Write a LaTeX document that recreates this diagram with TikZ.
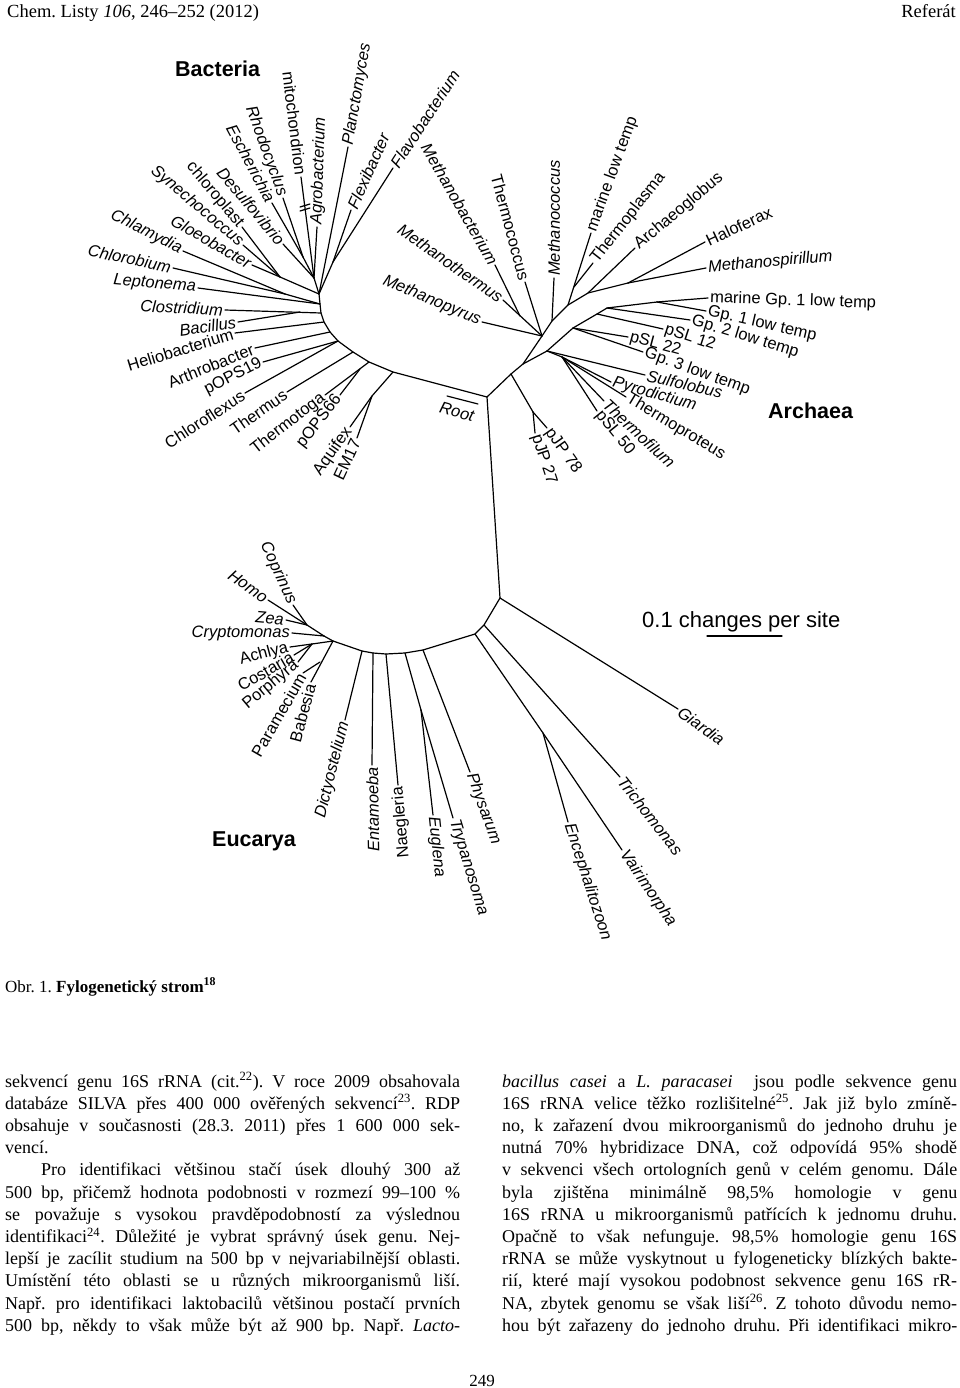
\documentclass[tikz,border=0pt]{standalone}
\usepackage{fontspec}
\setmainfont{Liberation Serif}
\setsansfont{Liberation Sans}
\usetikzlibrary{positioning}

\tikzset{
  branch/.style={line width=1.2pt, line cap=round, line join=round},
  taxon/.style={font=\fontsize{16.5}{17}\selectfont\sffamily, inner sep=2pt},
  taxit/.style={taxon, font=\fontsize{16.5}{17}\selectfont\sffamily\itshape},
  domainlbl/.style={font=\fontsize{21.5}{24}\selectfont\sffamily\bfseries, anchor=base west, inner sep=0pt},
  pagehead/.style={font=\fontsize{18.5}{20}\selectfont, inner sep=0pt},
  bodytext/.style={anchor=base west, inner sep=0pt, font=\fontsize{18}{22.2}\selectfont},
}

% leaf: style, name, attach node, tip, label rotation, label anchor, text
\newcommand\leaf[7][taxon]{%
  \coordinate (#2) at (#4);
  \draw[branch] (#3) -- (#2);
  \node[#1, rotate=#5, anchor=#6] (#2-lbl) at (#2) {#7};
}

\begin{document}
\frenchspacing
\begin{tikzpicture}[x=1pt, y=-1pt]
\useasboundingbox (0,0) rectangle (960,1388);

% ============================
% PAGE HEAD
% ============================
\node[pagehead, anchor=base west] (head) at (7,18) {Chem. Listy \textit{106}, 246--252 (2012)};
\node[pagehead, anchor=base east] (kind) at (956,18) {Referát};

% ============================
% ROOT
% ============================
\coordinate (root) at (487,397);
\coordinate (euroot) at (500,598);
\draw[branch] (root) -- (euroot);

\coordinate (rm1) at (447,396);
\coordinate (rm2) at (478,404);
\draw[branch] (rm1) -- (rm2);
\node[taxit, rotate=-15] (rootlbl) at (457,412) {Root};

% ============================
% BACTERIA
% ============================
\node[domainlbl] (bacteria) at (175,77) {Bacteria};

% backbone
\coordinate (b1) at (393,372);
\coordinate (b2) at (369,362);
\coordinate (b3) at (353,352);
\coordinate (b4) at (338,341);
\coordinate (b5) at (330,332);
\coordinate (b6) at (324,322);
\coordinate (b7) at (321,313);
\coordinate (b8) at (320,304);
\coordinate (b9) at (319,294);
\coordinate (b10) at (314,278);
\draw[branch] (root) -- (b1) -- (b2) -- (b3) -- (b4) -- (b5) -- (b6) -- (b7) -- (b8) -- (b9) -- (b10);

\coordinate (aqn) at (372,396);
\draw[branch] (b1) -- (aqn);
\leaf{aquifex}{aqn}{350,427}{55}{east}{Aquifex}
\leaf{em17}{aqn}{357,438}{65}{east}{EM17}

\leaf{thermotoga}{b2}{325,395}{38}{east}{Thermotoga}
\coordinate (tgn) at (360,369);
\leaf{pops66}{tgn}{340,395}{52}{east}{pOPS66}
\leaf{thermus}{b3}{287,392}{35}{east}{Thermus}
\leaf{chloroflexus}{b4}{245,393}{33}{east}{Chloroflexus}
\leaf{pops19}{b4}{263,362}{27}{east}{pOPS19}
\leaf{arthrobacter}{b5}{255,348}{22}{east}{Arthrobacter}
\leaf{heliobact}{b6}{235,333}{17}{east}{Heliobacterium}
\leaf[taxit]{clostridium}{b7}{225,310}{-3}{east}{Clostridium}
\coordinate (cbn) at (300,312);
\leaf[taxit]{bacillus}{cbn}{238,322}{8}{east}{Bacillus}
\leaf[taxit]{leptonema}{b8}{198,288}{-5}{east}{Leptonema}

\coordinate (ccn) at (285,294);
\draw[branch] (b8) -- (ccn);
\leaf[taxit]{chlorobium}{ccn}{173,268}{-12}{east}{Chlorobium}
\leaf[taxit]{chlamydia}{ccn}{183,251}{-27}{east}{Chlamydia}

\coordinate (gcn) at (280,277);
\draw[branch] (b9) -- (gcn);
\leaf[taxit]{gloeobacter}{gcn}{252,265}{-30}{east}{Gloeobacter}
\leaf[taxit]{synechococcus}{gcn}{243,245}{-40}{east}{Synechococcus}
\leaf{chloroplast}{gcn}{242,227}{-50}{east}{chloroplast}

\leaf[taxit]{desulfo}{b10}{283,244}{-50}{east}{Desulfovibrio}
\coordinate (rcn) at (303,257);
\draw[branch] (b10) -- (rcn);
\leaf[taxit]{escherichia}{rcn}{272,203}{-62}{east}{Escherichia}
\leaf[taxit]{rhodocyclus}{rcn}{283,198}{-70}{east}{Rhodocyclus}
\leaf{mitochondrion}{b10}{301,177}{-83}{east}{mitochondrion}
% break mark on the long branch
\draw[branch] (300,207) -- (310,204);
\draw[branch] (300,211) -- (310,208);
\leaf[taxit]{agrobact}{b10}{317,227}{88}{west}{Agrobacterium}
\leaf[taxit]{planctomyces}{b9}{348,147}{80}{west}{Planctomyces}
\coordinate (fcn) at (333,262);
\draw[branch] (b9) -- (fcn);
\leaf[taxit]{flavobact}{fcn}{393,168}{57}{west}{Flavobacterium}
\leaf[taxit]{flexibacter}{fcn}{351,210}{66}{west}{Flexibacter}

% ============================
% ARCHAEA
% ============================
\node[domainlbl] (archaea) at (768,418) {Archaea};

\coordinate (a1) at (511,374);
\coordinate (a2) at (523,364);
\coordinate (e0) at (542,336);
\coordinate (c0) at (547,351);
\draw[branch] (root) -- (a1) -- (a2) -- (e0);
\draw[branch] (a2) -- (c0);

\coordinate (pjn) at (533,412);
\draw[branch] (a1) -- (pjn);
\leaf{pjp78}{pjn}{547,428}{-55}{west}{pJP 78}
\leaf{pjp27}{pjn}{535,433}{-72}{west}{pJP 27}

% Euryarchaeota
\coordinate (e1) at (552,321);
\coordinate (e2) at (568,305);
\coordinate (e3) at (588,293);
\coordinate (e4) at (628,283);
\draw[branch] (e0) -- (e1) -- (e2) -- (e3) -- (e4);
\leaf[taxit]{methanopyrus}{e0}{482,322}{-23}{east}{Methanopyrus}
\leaf[taxit]{methanotherm}{e0}{503,300}{-35}{east}{Methanothermus}
\coordinate (mtn) at (520,316);
\leaf[taxit]{methanobact}{mtn}{495,265}{-60}{east}{Methanobacterium}
\leaf{thermococcus}{e0}{525,282}{-75}{east}{Thermococcus}
\leaf[taxit]{methanococcus}{e1}{554,278}{90}{west}{Methanococcus}
\leaf{marinelow}{e2}{591,233}{70}{west}{marine low temp}
\coordinate (mln) at (574,287);
\leaf{thermoplasma}{mln}{593,263}{52}{west}{Thermoplasma}
\leaf{archaeoglobus}{e3}{635,248}{40}{west}{Archaeoglobus}
\leaf{haloferax}{e4}{705,242}{25}{west}{Haloferax}
\leaf[taxit]{methanospir}{e4}{706,268}{5}{west}{Methanospirillum}

% Crenarchaeota
\leaf[taxit]{sulfolobus}{c0}{645,375}{-13}{west}{Sulfolobus}
\coordinate (c1) at (562,357);
\draw[branch] (c0) -- (c1);
\leaf[taxit]{pyrodictium}{c1}{611,382}{-16}{west}{Pyrodictium}
\leaf{thermoproteus}{c1}{626,397}{-31}{west}{Thermoproteus}
\leaf[taxit]{thermofilum}{c1}{604,401}{-43}{west}{Thermofilum}
\leaf{psl50}{c1}{597,411}{-51}{west}{pSL 50}

\coordinate (c2) at (573,328);
\coordinate (c2b) at (597,314);
\coordinate (c3) at (607,308);
\coordinate (c4) at (657,302);
\draw[branch] (c0) -- (c2) -- (c2b) -- (c3) -- (c4);
\leaf{psl22}{c2}{628,337}{-15}{west}{pSL 22}
\leaf{gp3}{c2}{643,352}{-20}{west}{Gp. 3 low temp}
\leaf{psl12}{c2b}{663,329}{-18}{west}{pSL 12}
\leaf{gp2}{c3}{690,320}{-17}{west}{Gp. 2 low temp}
\leaf{marinegp}{c4}{708,298}{-2}{west}{marine Gp. 1 low temp}
\leaf{gp1}{c4}{706,311}{-13}{west}{Gp. 1 low temp}

% ============================
% EUCARYA
% ============================
\node[domainlbl] (eucarya) at (212,846) {Eucarya};

\coordinate (u1) at (484,625);
\coordinate (u2) at (475,634);
\coordinate (u3) at (423,650);
\coordinate (u4) at (405,653);
\coordinate (u5) at (386,654);
\coordinate (u6) at (373,653);
\coordinate (u7) at (362,651);
\coordinate (u8) at (333,641);
\coordinate (u9) at (324,636);
\draw[branch] (euroot) -- (u1) -- (u2) -- (u3) -- (u4) -- (u5) -- (u6) -- (u7) -- (u8) -- (u9);

\leaf[taxit]{giardia}{euroot}{678,709}{-36}{west}{Giardia}
\leaf[taxit]{trichomonas}{u1}{620,777}{-52}{west}{Trichomonas}
\coordinate (mcn) at (543,733);
\draw[branch] (u2) -- (mcn);
\leaf[taxit]{vairimorpha}{mcn}{622,850}{-56}{west}{Vairimorpha}
\leaf[taxit]{encephalito}{mcn}{568,822}{-72}{west}{Encephalitozoon}
\leaf[taxit]{physarum}{u3}{470,772}{-70}{west}{Physarum}
\coordinate (etn) at (421,710);
\draw[branch] (u4) -- (etn);
\leaf[taxit]{trypanosoma}{etn}{453,818}{-73}{west}{Trypanosoma}
\leaf[taxit]{euglena}{etn}{433,815}{-84}{west}{Euglena}
\leaf{naegleria}{u5}{398,785}{95}{east}{Naegleria}
\leaf[taxit]{entamoeba}{u6}{372,765}{91}{east}{Entamoeba}
\leaf[taxit]{dictyostel}{u7}{345,720}{76}{east}{Dictyostelium}

\leaf{babesia}{u8}{311,682}{75}{east}{Babesia}
\coordinate (bpn) at (320,662);
\leaf{paramecium}{bpn}{303,673}{60}{east}{Paramecium}
\coordinate (acn) at (312,644);
\draw[branch] (u8) -- (acn);
\leaf{porphyra}{acn}{298,662}{40}{east}{Porphyra}
\leaf{costaria}{acn}{294,655}{30}{east}{Costaria}
\leaf{achlya}{acn}{290,647}{15}{east}{Achlya}
\leaf[taxit]{cryptomonas}{u9}{292,633}{0}{east}{Cryptomonas}
\coordinate (zhn) at (307,625);
\draw[branch] (u9) -- (zhn);
\leaf[taxit]{zea}{zhn}{286,620}{-5}{east}{Zea}
\leaf[taxit]{homo}{zhn}{268,600}{-35}{east}{Homo}
\leaf[taxit]{coprinus}{zhn}{293,605}{-65}{east}{Coprinus}

% scale bar
\node[font=\fontsize{22}{24}\selectfont\sffamily, anchor=base west, inner sep=0pt] (scalelbl) at (642,627) {0.1 changes per site};
\coordinate (sb1) at (707,636);
\coordinate (sb2) at (782,636);
\draw[branch] (sb1) -- (sb2);

% ============================
% CAPTION AND TEXT
% ============================
\node[anchor=base west, inner sep=0pt, font=\fontsize{17}{20}\selectfont] (caption) at (5,992)
  {Obr. 1. \textbf{Fylogenetický strom}\textsuperscript{\textbf{18}}};

\node[bodytext] (leftcol) at (5,1087) {\parbox[t]{455pt}{\hbadness=10000 \emergencystretch=20pt
sekvencí genu 16S rRNA (cit.\textsuperscript{22}). V roce 2009 obsahovala\linebreak
databáze SILVA přes 400~000 ověřených sekvencí\textsuperscript{23}. RDP\linebreak
obsahuje v současnosti (28.3. 2011) přes 1~600~000 sek-\linebreak
vencí.\par
\hspace*{36pt}Pro identifikaci většinou stačí úsek dlouhý 300 až\linebreak
500 bp, přičemž hodnota podobnosti v rozmezí 99--100~\%\linebreak
se považuje s~vysokou pravděpodobností za výslednou\linebreak
identifikaci\textsuperscript{24}. Důležité je vybrat správný úsek genu. Nej-\linebreak
lepší je zacílit studium na 500 bp v nejvariabilnější oblasti.\linebreak
Umístění této oblasti se u různých mikroorganismů liší.\linebreak
Např. pro identifikaci laktobacilů většinou postačí prvních\linebreak
500 bp, někdy to však může být až 900 bp. Např. \textit{Lacto-}\linebreak}};

\node[bodytext] (rightcol) at (502,1087) {\parbox[t]{455pt}{\hbadness=10000 \emergencystretch=20pt
\textit{bacillus casei} a \textit{L. paracasei} \ jsou podle sekvence genu\linebreak
16S rRNA velice těžko rozlišitelné\textsuperscript{25}. Jak již bylo zmíně-\linebreak
no, k~zařazení dvou mikroorganismů do jednoho druhu je\linebreak
nutná 70\% hybridizace DNA, což odpovídá 95\% shodě\linebreak
v~sekvenci všech ortologních genů v~celém genomu. Dále\linebreak
byla zjištěna minimálně 98,5\% homologie v~genu\linebreak
16S rRNA u mikroorganismů patřících k~jednomu druhu.\linebreak
Opačně to však nefunguje. 98,5\% homologie genu 16S\linebreak
rRNA se může vyskytnout u fylogeneticky blízkých bakte-\linebreak
rií, které mají vysokou podobnost sekvence genu 16S rR-\linebreak
NA, zbytek genomu se však liší\textsuperscript{26}. Z tohoto důvodu nemo-\linebreak
hou být zařazeny do jednoho druhu. Při identifikaci mikro-\linebreak}};

\node[anchor=base, inner sep=0pt, font=\fontsize{17}{20}\selectfont] (pageno) at (482,1386) {249};

\end{tikzpicture}
\end{document}
